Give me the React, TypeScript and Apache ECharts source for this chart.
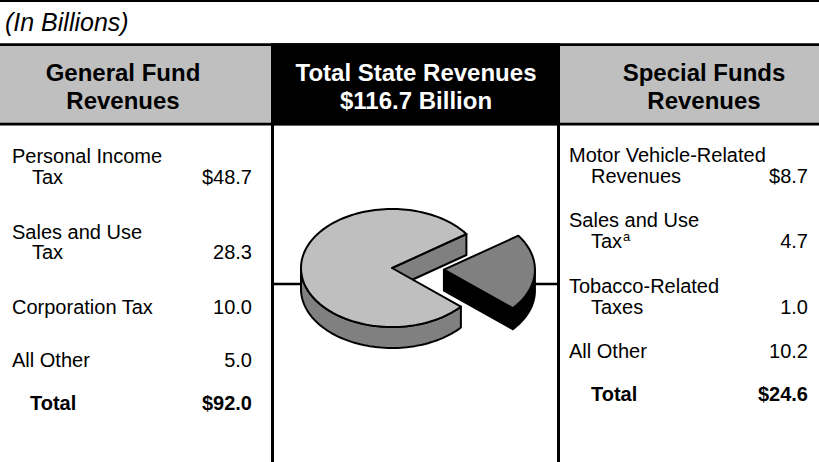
import React, { useEffect, useRef } from "react";
import * as echarts from "echarts";

// ---------- data ----------
const unitNote = "(In Billions)";
const generalHeader = ["General Fund", "Revenues"];
const totalHeader = ["Total State Revenues", "$116.7 Billion"];
const specialHeader = ["Special Funds", "Revenues"];

const generalCategories = [["Personal Income", "Tax"], ["Sales and Use", "Tax"], ["Corporation Tax"], ["All Other"]];
const generalValues = [48.7, 28.3, 10.0, 5.0];
const generalTotal = 92.0;

const specialCategories = [["Motor Vehicle-Related", "Revenues"], ["Sales and Use", "Tax"], ["Tobacco-Related", "Taxes"], ["All Other"]];
const specialFootnotes = ["", "a", "", ""];
const specialValues = [8.7, 4.7, 1.0, 10.2];
const specialTotal = 24.6;

const totalLabel = "Total";
const pieNames = ["General Fund Revenues", "Special Funds Revenues"];
const pieValues = [generalTotal, specialTotal];

// ---------- style / layout ----------
const FONT = '"Liberation Sans", Arial, Helvetica, sans-serif';
const GRAY = "#bfbfbf";
const PIE = { cx: 392, cy: 268, rx: 91, ry: 59, depth: 21, startDeg: 40.8, explode: 52, explodedIndex: 1 };
const topColors = ["#bfbfbf", "#808080"];
const sideColors = ["#808080", "#000000"];

const generalRowY = [[155.5, 176.5], [231.5, 252], [306.5], [359.7]];
const generalTotalY = 403;
const specialRowY = [[154.7, 176.3], [219.7, 241.3], [286.3, 307.3], [351.3]];
const specialTotalY = 393.7;

const fmt = (v: number, dollar: boolean) => (dollar ? "$" : "") + v.toFixed(1);

function txt(text: string, x: number, y: number, o: any = {}) {
  const align = o.align || "left";
  return {
    type: "text",
    x,
    y,
    z: 10,
    silent: true,
    style: {
      text,
      fill: o.fill || "#000",
      fontSize: o.fontSize || 20,
      fontWeight: o.fontWeight || "normal",
      fontStyle: o.fontStyle || "normal",
      fontFamily: FONT,
      textAlign: align,
      textVerticalAlign: "middle",
      align,
      verticalAlign: "middle",
    },
  };
}

function buildGraphics() {
  const els: any[] = [];
  // frame
  els.push({ type: "rect", z: 1, silent: true, shape: { x: 0, y: 0, width: 819, height: 2 }, style: { fill: "#000" } });
  els.push({ type: "rect", z: 1, silent: true, shape: { x: 0, y: 46, width: 819, height: 77 }, style: { fill: GRAY } });
  els.push({ type: "rect", z: 1, silent: true, shape: { x: 0, y: 43.3, width: 819, height: 2.7 }, style: { fill: "#000" } });
  els.push({ type: "rect", z: 1, silent: true, shape: { x: 0, y: 122.7, width: 819, height: 2.8 }, style: { fill: "#000" } });
  els.push({ type: "rect", z: 1, silent: true, shape: { x: 271, y: 43.3, width: 289, height: 82 }, style: { fill: "#000" } });
  els.push({ type: "line", z: 1, silent: true, shape: { x1: 272.5, y1: 124, x2: 272.5, y2: 462 }, style: { stroke: "#000", lineWidth: 3 } });
  els.push({ type: "line", z: 1, silent: true, shape: { x1: 558.5, y1: 124, x2: 558.5, y2: 462 }, style: { stroke: "#000", lineWidth: 3 } });
  // connectors to the pie
  els.push({ type: "line", z: 1, silent: true, shape: { x1: 272, y1: 284, x2: 330, y2: 284 }, style: { stroke: "#000", lineWidth: 2.7 } });
  els.push({ type: "line", z: 1, silent: true, shape: { x1: 500, y1: 284, x2: 559, y2: 284 }, style: { stroke: "#000", lineWidth: 2.7 } });

  els.push(txt(unitNote, 5, 21.5, { fontSize: 25, fontStyle: "italic" }));
  // headers
  const hs = { fontSize: 24, fontWeight: "bold", align: "center" };
  els.push(txt(generalHeader[0], 123, 72.5, hs));
  els.push(txt(generalHeader[1], 123, 100.5, hs));
  els.push(txt(totalHeader[0], 416, 72.5, { ...hs, fill: "#fff" }));
  els.push(txt(totalHeader[1], 416, 100.5, { ...hs, fill: "#fff" }));
  els.push(txt(specialHeader[0], 704, 72.5, hs));
  els.push(txt(specialHeader[1], 704, 100.5, hs));

  // general fund table
  generalCategories.forEach((lines, i) => {
    const ys = generalRowY[i];
    lines.forEach((l, j) => els.push(txt(l, j === 0 ? 12 : 32, ys[j])));
    els.push(txt(fmt(generalValues[i], i === 0), 252, ys[ys.length - 1], { align: "right" }));
  });
  els.push(txt(totalLabel, 30, generalTotalY, { fontWeight: "bold" }));
  els.push(txt(fmt(generalTotal, true), 252, generalTotalY, { fontWeight: "bold", align: "right" }));

  // special funds table
  specialCategories.forEach((lines, i) => {
    const ys = specialRowY[i];
    lines.forEach((l, j) => els.push(txt(l, j === 0 ? 569 : 591, ys[j])));
    if (specialFootnotes[i]) {
      els.push(txt(specialFootnotes[i], 591 + 32, ys[ys.length - 1] - 4.5, { fontSize: 13 }));
    }
    els.push(txt(fmt(specialValues[i], i === 0), 808, ys[ys.length - 1], { align: "right" }));
  });
  els.push(txt(totalLabel, 591, specialTotalY, { fontWeight: "bold" }));
  els.push(txt(fmt(specialTotal, true), 808, specialTotalY, { fontWeight: "bold", align: "right" }));
  return els;
}

function renderSlice(params: any, api: any) {
  const i = params.dataIndex;
  const total = pieValues.reduce((a, b) => a + b, 0);
  let before = 0;
  for (let k = 0; k < i; k++) before += pieValues[k];
  const v = api.value(0);
  const a1 = PIE.startDeg + (before / total) * 360;
  const a2 = a1 + (v / total) * 360;
  const mid = (((a1 + a2) / 2) * Math.PI) / 180;
  const ex = i === PIE.explodedIndex ? PIE.explode : 0;
  const cx = PIE.cx + ex * Math.cos(mid);
  const cy = PIE.cy + (ex * Math.sin(mid) * PIE.ry) / PIE.rx;
  const D = PIE.depth;
  const P = (deg: number, dy = 0) => [
    cx + PIE.rx * Math.cos((deg * Math.PI) / 180),
    cy + PIE.ry * Math.sin((deg * Math.PI) / 180) + dy,
  ];
  const arc = (from: number, to: number, dy = 0) => {
    const n = Math.max(2, Math.ceil(Math.abs(to - from) / 2));
    const pts: number[][] = [];
    for (let s = 0; s <= n; s++) pts.push(P(from + ((to - from) * s) / n, dy));
    return pts;
  };
  const stroke = { stroke: "#000", lineWidth: 2, lineJoin: "round" };
  const side = { fill: sideColors[i], ...stroke };
  const children: any[] = [];
  const rad = (d: number) => (d * Math.PI) / 180;
  // radial cut faces
  const face = (deg: number) => {
    const r = P(deg);
    const rb = P(deg, D);
    return { type: "polygon", shape: { points: [[cx, cy], r, rb, [cx, cy + D]] }, style: side };
  };
  if (Math.cos(rad(a1)) < 0) children.push(face(a1));
  if (Math.cos(rad(a2)) > 0) children.push(face(a2));
  // outer wall (front half only)
  for (let k = -1; k <= 2; k++) {
    const lo = Math.max(a1, k * 360);
    const hi = Math.min(a2, k * 360 + 180);
    if (hi > lo) {
      const pts = arc(lo, hi).concat(arc(hi, lo, D));
      children.push({ type: "polygon", shape: { points: pts }, style: side });
    }
  }
  // top face
  children.push({
    type: "polygon",
    shape: { points: [[cx, cy]].concat(arc(a1, a2)) },
    style: { fill: topColors[i], ...stroke },
  });
  return { type: "group", children };
}

export default function App() {
  const ref = useRef<HTMLDivElement>(null);
  useEffect(() => {
    if (!ref.current) return;
    const chart = echarts.init(ref.current, undefined, { renderer: "svg" });
    chart.setOption({
      animation: false,
      backgroundColor: "#ffffff",
      graphic: { elements: buildGraphics() },
      series: [
        {
          type: "custom",
          name: "Total State Revenues",
          coordinateSystem: "none",
          z: 5,
          silent: true,
          data: pieValues.map((v, i) => ({ name: pieNames[i], value: [v] })),
          renderItem: renderSlice,
        },
      ],
    });
    return () => chart.dispose();
  }, []);
  return <div ref={ref} style={{ position: "fixed", left: 0, top: 0, width: 819, height: 462 }} />;
}
